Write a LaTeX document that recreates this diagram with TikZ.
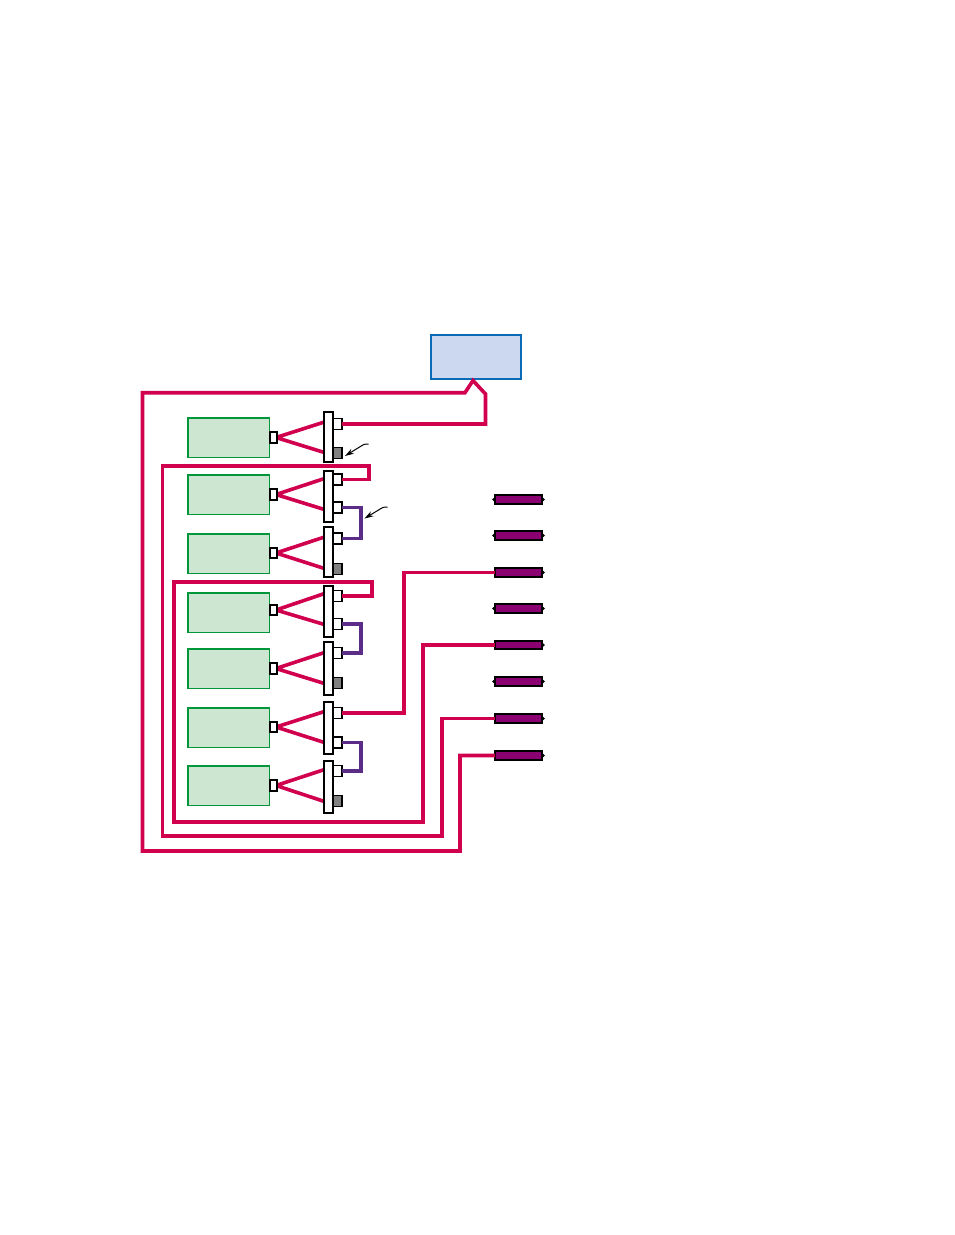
\documentclass[tikz,border=0pt]{standalone}
\usetikzlibrary{arrows.meta}
\definecolor{wirered}{HTML}{D0004F}
\definecolor{wirepurple}{HTML}{5B2D87}
\definecolor{termfill}{HTML}{8A0070}
\definecolor{greenfill}{HTML}{CDE6D2}
\definecolor{greenline}{HTML}{009639}
\definecolor{bluefill}{HTML}{CCD8F0}
\definecolor{blueline}{HTML}{0A6AB5}
\tikzset{
  unitbox/.style={draw=greenline,fill=greenfill,line width=1.5pt,minimum width=81.5pt,minimum height=39.5pt,inner sep=0pt,outer sep=0pt},
  hostbox/.style={draw=blueline,fill=bluefill,line width=1.5pt,minimum width=90pt,minimum height=44pt,inner sep=0pt,outer sep=0pt},
  plugbox/.style={draw=black,fill=white,line width=1.8pt,minimum width=6.5pt,minimum height=10.5pt,inner sep=0pt,outer sep=0pt},
  barbox/.style={draw=black,fill=white,line width=1.8pt,minimum width=8.5pt,inner sep=0pt,outer sep=0pt},
  portbox/.style={draw=black,fill=white,line width=1.8pt,minimum width=8.5pt,minimum height=11pt,inner sep=0pt,outer sep=0pt},
  endbox/.style={draw=black,fill=gray,line width=1.8pt,minimum width=8.5pt,minimum height=11pt,inner sep=0pt,outer sep=0pt},
  termbox/.style={draw=black,fill=termfill,line width=1.6pt,minimum width=47pt,minimum height=8.5pt,inner sep=0pt,outer sep=0pt},
  wire/.style={draw=wirered,line width=3.6pt,miter limit=10},
  link/.style={draw=wirepurple,line width=3.6pt},
  leader/.style={draw=black,line width=1pt,-{Stealth[length=9pt,width=5.5pt]}}
}
\begin{document}
\begin{tikzpicture}[x=1pt,y=-1pt]
\useasboundingbox (0,0) rectangle (954,1235);
% host
\node[hostbox] (host) at (476,357) {};
\coordinate (apex) at (473,380.5);
% units: index / box centre y / plug y / bar centre / bar height / port a y / port b y / wire top / wire bottom
\foreach \i/\by/\py/\bc/\bh/\pa/\pb/\wt/\wb in {
 1/437.5/437.5/437/50/424/453/421.5/453,
 2/494.5/494.5/496.5/51/479.5/507.5/478/510,
 3/553.5/553/552/50/538.5/569/536.5/569,
 4/612.5/610/611.5/51/596/624/593/625,
 5/668.5/668.5/668.5/53/653/683/652/684,
 6/727.5/727/728/52/713/742.5/711/743,
 7/785.5/785.5/787/52/771/801/769/802}{
  \node[unitbox] (unit\i) at (228.5,\by) {};
  \coordinate (tipT\i) at (326,\wt);
  \coordinate (tipB\i) at (326,\wb);
  \coordinate (plugc\i) at (276,\py);
  \draw[wire] (tipT\i) -- (plugc\i) -- (tipB\i);
  \node[plugbox] (plug\i) at (273.5,\py) {};
  \node[barbox,minimum height=\bh pt] (bar\i) at (328.5,\bc) {};
  \node[portbox] (pa\i) at (337.5,\pa) {};
  \node[portbox] (pb\i) at (337.5,\pb) {};
}
\foreach \i in {1,3,5,7}{ \path (pb\i) node[endbox] (pe\i) {}; }
% terminals
\foreach \i/\ty in {1/499.5,2/535.5,3/572.5,4/608.5,5/645,6/681.5,7/718.5,8/755.5}{
  \node[termbox] (term\i) at (518.5,\ty) {};
  \fill[black] (term\i.west) ++(-3,0) -- ++(3.5,-3) -- ++(0,6) -- cycle;
  \fill[black] (term\i.east) ++(3,0) -- ++(-3.5,-3) -- ++(0,6) -- cycle;
}
% purple links
\draw[link] (pb2.east) -- (361,507.5) -- (361,538.5) -- (pa3.east);
\draw[link] (pb4.east) -- (361,624) -- (361,653) -- (pa5.east);
\draw[link] (pb6.east) -- (361,742.5) -- (361,771) -- (pa7.east);
% red wires
\draw[wire] (pa1.east) -- (485.5,424) -- (485.5,394) -- (apex) -- (465,392.7) -- (142.5,392.7) -- (142.5,851) -- (460,851) -- (460,755.5) -- (term8.west);
\draw[wire] (pa2.east) -- (369,479.5) -- (369,466) -- (162.3,466) -- (162.3,836) -- (442,836) -- (442,718.5) -- (term7.west);
\draw[wire] (pa4.east) -- (372,596) -- (372,582) -- (174,582) -- (174,822) -- (423,822) -- (423,645) -- (term5.west);
\draw[wire] (pa6.east) -- (404,713) -- (404,572.5) -- (term3.west);
% leaders
\coordinate (leadAstart) at (368.5,444);
\coordinate (leadAend) at (345,456);
\coordinate (leadBstart) at (387.5,507);
\coordinate (leadBend) at (364.5,518.5);
\draw[leader] (leadAstart) .. controls (364,444) and (364,444.5) .. (362,445.5) -- (leadAend);
\draw[leader] (leadBstart) .. controls (383,507) and (383,507.5) .. (381,508.5) -- (leadBend);
\end{tikzpicture}
\end{document}
